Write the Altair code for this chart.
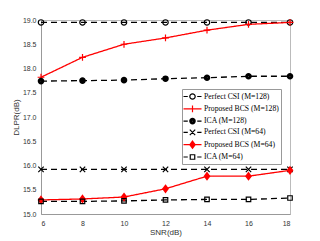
import altair as alt
import pandas as pd

snr = [6, 8, 10, 12, 14, 16, 18]
series_names = [
    "Perfect CSI (M=128)",
    "Proposed BCS (M=128)",
    "ICA (M=128)",
    "Perfect CSI (M=64)",
    "Proposed BCS (M=64)",
    "ICA (M=64)",
]
perfect_128 = [18.95, 18.95, 18.95, 18.95, 18.95, 18.95, 18.95]
bcs_128 = [17.82, 18.23, 18.50, 18.63, 18.79, 18.91, 18.95]
ica_128 = [17.74, 17.75, 17.76, 17.79, 17.81, 17.84, 17.84]
perfect_64 = [15.92, 15.92, 15.92, 15.92, 15.92, 15.92, 15.92]
bcs_64 = [15.29, 15.31, 15.35, 15.52, 15.78, 15.78, 15.90]
ica_64 = [15.26, 15.26, 15.27, 15.29, 15.30, 15.30, 15.33]
all_values = [perfect_128, bcs_128, ica_128, perfect_64, bcs_64, ica_64]

colors = ["#000000", "#ff0000", "#000000", "#000000", "#ff0000", "#000000"]
dashes = [[6, 4], [1, 0], [6, 4], [6, 4], [1, 0], [6, 4]]

m_circle = "M-0.6,0A0.6,0.6 0 1,0 0.6,0A0.6,0.6 0 1,0 -0.6,0Z"
m_plus = "M-0.75,0H0.75M0,-0.75V0.75"
m_fcircle = (m_circle +
             "M-0.4,0A0.4,0.4 0 1,0 0.4,0A0.4,0.4 0 1,0 -0.4,0Z"
             "M-0.2,0A0.2,0.2 0 1,0 0.2,0A0.2,0.2 0 1,0 -0.2,0Z")
m_x = "M-0.6,-0.6L0.6,0.6M-0.6,0.6L0.6,-0.6"
m_fdiamond = ("M0,-0.8L0.6,0L0,0.8L-0.6,0Z"
              "M0,-0.5L0.38,0L0,0.5L-0.38,0Z"
              "M0,-0.2L0.15,0L0,0.2L-0.15,0Z")
m_square = "M-0.5,-0.5H0.5V0.5H-0.5Z"
markers = [m_circle, m_plus, m_fcircle, m_x, m_fdiamond, m_square]

dash_seg = "M-2,0H-1.05M1.05,0H2"
solid_seg = "M-2,0H2"
legend_shapes = [
    (solid_seg if d == [1, 0] else dash_seg) + m for d, m in zip(dashes, markers)
]

rows = []
for name, vals in zip(series_names, all_values):
    for s, v in zip(snr, vals):
        rows.append({"snr": s, "dlpr": v, "series": name})
df = pd.DataFrame(rows)

x_enc = alt.X("snr:Q", title="SNR(dB)",
              scale=alt.Scale(domain=[6, 18], nice=False),
              axis=alt.Axis(values=snr, format="d"))
y_enc = alt.Y("dlpr:Q", title="DLPR(dB)",
              scale=alt.Scale(domain=[15, 19], nice=False, zero=False),
              axis=alt.Axis(values=[15, 15.5, 16, 16.5, 17, 17.5, 18, 18.5, 19]))
color_scale = alt.Scale(domain=series_names, range=colors)
color_enc = alt.Color("series:N", scale=color_scale, legend=None)

lines = alt.Chart(df).mark_line(strokeWidth=1.3).encode(
    x=x_enc, y=y_enc, color=color_enc,
    strokeDash=alt.StrokeDash("series:N",
                              scale=alt.Scale(domain=series_names, range=dashes),
                              legend=None),
    detail="series:N",
)

points = alt.Chart(df).mark_point(filled=False, opacity=1, size=81, strokeWidth=1.2).encode(
    x=x_enc, y=y_enc, color=color_enc,
    shape=alt.Shape("series:N", scale=alt.Scale(domain=series_names, range=markers),
                    legend=None),
)

leg = alt.Legend(
    title=None, orient="none", legendX=141, legendY=69,
    symbolSize=81, symbolStrokeWidth=1.2, symbolOffset=3,
    labelOffset=6, labelFont="Liberation Serif", labelFontSize=7.7,
    labelColor="#000", rowPadding=0.3, padding=2,
    fillColor="white", strokeColor="#999",
    labelLimit=200,
)

legend_layer = alt.Chart(df).transform_filter("false").mark_point(
    filled=False, opacity=1, size=81, strokeWidth=1.2
).encode(
    x=x_enc, y=y_enc,
    color=alt.Color("series:N", scale=color_scale, legend=leg),
    shape=alt.Shape("series:N",
                    scale=alt.Scale(domain=series_names, range=legend_shapes),
                    legend=leg),
)

chart = alt.layer(lines, points, legend_layer).resolve_scale(
    shape="independent", color="independent"
).properties(
    width=249, height=194,
    autosize=alt.AutoSizeParams(type="none"),
    padding={"left": 33, "top": 12, "right": 22, "bottom": 27},
).configure_view(
    stroke="#bbbbbb", strokeWidth=1
).configure_axis(
    grid=False, domainColor="#999999", tickSize=0,
    labelFont="Liberation Sans", labelFontSize=7, labelColor="#333",
    titleFont="Liberation Sans", titleFontSize=8, titleFontWeight="normal",
    titleColor="#333", labelPadding=5,
).configure_axisX(titlePadding=2).configure_axisY(titlePadding=2)

chart.save("out.html", embed_options={"renderer": "svg", "actions": False})
